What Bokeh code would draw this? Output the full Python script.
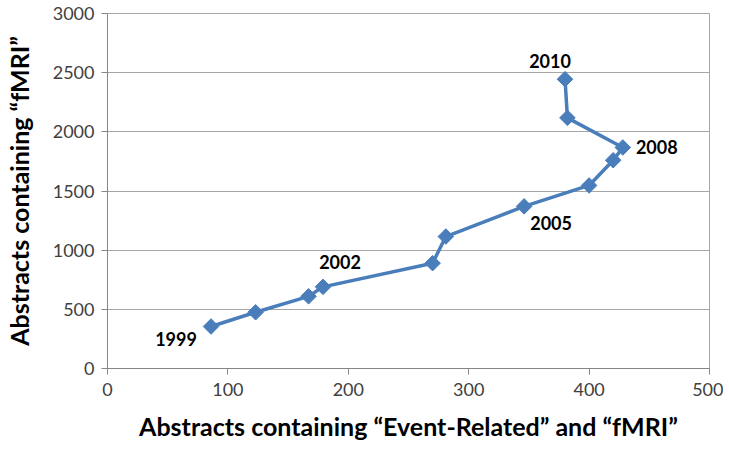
from bokeh.plotting import figure
from bokeh.models import Range1d, FixedTicker, ColumnDataSource
from bokeh.core.properties import value
from bokeh.embed import file_html
from bokeh.resources import INLINE
import math

years = [1999, 2000, 2001, 2002, 2003, 2004, 2005, 2006, 2007, 2008, 2009, 2010]
event_related = [86, 123, 167, 179, 270, 281, 346, 400, 420, 428, 382, 380]
fmri = [355, 475, 610, 690, 890, 1115, 1370, 1547, 1760, 1868, 2118, 2445]

label_years = ["1999", "2002", "2005", "2008", "2010"]
label_x = [86, 179, 346, 428, 380]
label_y = [355, 690, 1370, 1868, 2445]
label_dx = [-35, 17, 27, 34, -15]
label_dy = [13, -25, 17, 0, -18]

x_ticks = [0, 100, 200, 300, 400, 500]
y_ticks = [0, 500, 1000, 1500, 2000, 2500, 3000]

FONT = "Lato"
BLUE = "#4A7EBB"

p = figure(frame_width=602, frame_height=355, output_backend="svg", toolbar_location=None,
           x_range=Range1d(0, 500), y_range=Range1d(0, 3000),
           min_border_left=97, min_border_top=13, min_border_right=14, min_border_bottom=66)

p.outline_line_color = "#A6A6A6"
p.outline_line_width = 1
p.xgrid.grid_line_color = None
p.ygrid.grid_line_color = "#A6A6A6"
p.ygrid.grid_line_width = 1

p.xaxis.ticker = FixedTicker(ticks=x_ticks)
p.yaxis.ticker = FixedTicker(ticks=y_ticks)

for ax in (p.xaxis, p.yaxis):
    ax.axis_line_color = "#868686"
    ax.major_tick_line_color = "#868686"
    ax.major_tick_out = 6
    ax.major_tick_in = 0
    ax.minor_tick_line_color = None
    ax.major_label_text_font = FONT
    ax.major_label_text_font_size = "18px"
    ax.major_label_text_color = "#404040"
    ax.axis_label_text_font = FONT
    ax.axis_label_text_font_style = "bold"
    ax.axis_label_text_font_size = "25px"
    ax.axis_label_text_color = "#000000"

p.xaxis.major_label_standoff = 8
p.yaxis.major_label_standoff = 7
p.xaxis.axis_label = "Abstracts containing \u201cEvent-Related\u201d and \u201cfMRI\u201d"
p.yaxis.axis_label = "Abstracts containing \u201cfMRI\u201d"
p.xaxis.axis_label_standoff = 12
p.yaxis.axis_label_standoff = 16

src = ColumnDataSource(dict(x=event_related, y=fmri, year=years))
p.line("x", "y", source=src, line_color=BLUE, line_width=3.5)
p.scatter("x", "y", source=src, marker="square", size=11, angle=math.pi / 4,
          fill_color=BLUE, line_color=BLUE)

lsrc = ColumnDataSource(dict(x=label_x, y=label_y, t=label_years, dx=label_dx, dy=label_dy))
p.text("x", "y", text="t", source=lsrc, x_offset="dx", y_offset="dy",
       text_font=value(FONT), text_font_style="bold", text_font_size="18px",
       text_align="center", text_baseline="middle", text_color="#000000")

open("out.html", "w").write(file_html(p, INLINE))
